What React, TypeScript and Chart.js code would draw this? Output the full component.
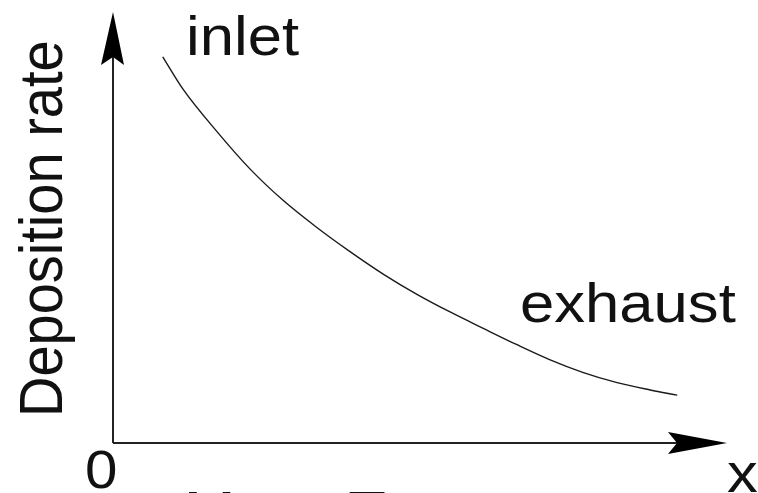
import React, { useEffect, useRef } from "react";
import { Chart, registerables } from "chart.js";

Chart.register(...registerables);

// Position along the reactor (relative units, 0..100)
const xPos = [8.1, 11.4, 16.9, 22.3, 27.7, 33.2, 38.6, 44.0, 49.5, 54.9, 60.3, 65.8, 71.2, 76.5, 82.1, 87.5, 91.9];
// Deposition rate (relative units, 0..100)
const rate = [89.6, 82.1, 72.3, 63.6, 56.3, 50.0, 44.4, 39.2, 34.5, 30.4, 26.6, 22.8, 19.3, 16.4, 14.0, 12.3, 11.1];

const yTitle = "Deposition rate";
const inletLabel = "inlet";
const exhaustLabel = "exhaust";
const originLabel = "0";
const xTitle = "x";
const caption = "Mass Transport";

const FONT = '"Liberation Sans", Arial, Helvetica, sans-serif';
const INK = "#111";

function drawText(ctx: CanvasRenderingContext2D, text: string, x: number, y: number, size: number, rotate = 0) {
  ctx.save();
  ctx.translate(x, y);
  ctx.scale(1.1, 1);
  if (rotate) ctx.rotate(rotate);
  ctx.font = `${size}px ${FONT}`;
  ctx.fillStyle = INK;
  ctx.textBaseline = "alphabetic";
  ctx.textAlign = "left";
  ctx.fillText(text, 0, 0);
  ctx.restore();
}

const axesPlugin = {
  id: "arrowAxes",
  beforeDatasetsDraw(chart: any) {
    const ctx: CanvasRenderingContext2D = chart.ctx;
    const area = chart.chartArea;
    const ox = chart.scales.x.getPixelForValue(0);
    const oy = chart.scales.y.getPixelForValue(0);
    ctx.save();
    ctx.strokeStyle = "#222";
    ctx.lineWidth = 2;
    ctx.beginPath();
    ctx.moveTo(ox, oy);
    ctx.lineTo(ox, area.top + 40);
    ctx.moveTo(ox, oy);
    ctx.lineTo(area.right - 45, oy);
    ctx.stroke();
    ctx.fillStyle = "#000";
    // y arrow head
    ctx.beginPath();
    ctx.moveTo(ox, area.top);
    ctx.lineTo(ox + 11, area.top + 53);
    ctx.lineTo(ox, area.top + 45);
    ctx.lineTo(ox - 12, area.top + 53);
    ctx.closePath();
    ctx.fill();
    // x arrow head
    ctx.beginPath();
    ctx.moveTo(area.right, oy);
    ctx.lineTo(area.right - 59, oy - 11);
    ctx.lineTo(area.right - 50, oy);
    ctx.lineTo(area.right - 59, oy + 11);
    ctx.closePath();
    ctx.fill();
    ctx.restore();
  },
  afterDraw(chart: any) {
    const ctx: CanvasRenderingContext2D = chart.ctx;
    drawText(ctx, inletLabel, 186, 55, 56);
    drawText(ctx, exhaustLabel, 520, 322, 56);
    drawText(ctx, xTitle, 727, 492, 56);
    drawText(ctx, originLabel, 85, 488, 53);
    drawText(ctx, yTitle, 62, 417, 56, -Math.PI / 2);
    drawText(ctx, caption, 184, 530, 56);
  },
};

export default function App() {
  const ref = useRef<HTMLCanvasElement | null>(null);
  useEffect(() => {
    if (!ref.current) return;
    const chart = new Chart(ref.current, {
      type: "line",
      data: {
        datasets: [
          {
            data: xPos.map((x, i) => ({ x, y: rate[i] })),
            borderColor: "#1a1a1a",
            borderWidth: 1.4,
            pointRadius: 0,
            tension: 0.4,
            cubicInterpolationMode: "monotone",
            fill: false,
          },
        ],
      },
      options: {
        responsive: false,
        animation: false,
        layout: { padding: { left: 113, top: 12, right: 31, bottom: 50 } },
        plugins: { legend: { display: false }, tooltip: { enabled: false }, title: { display: false } },
        scales: {
          x: { type: "linear", min: 0, max: 100, display: false },
          y: { type: "linear", min: 0, max: 100, display: false },
        },
      },
      plugins: [axesPlugin],
    } as any);
    return () => chart.destroy();
  }, []);
  return (
    <div style={{ position: "absolute", left: 0, top: 0, width: 758, height: 493, background: "#fff" }}>
      <canvas ref={ref} width={758} height={493} style={{ display: "block" }} />
    </div>
  );
}
